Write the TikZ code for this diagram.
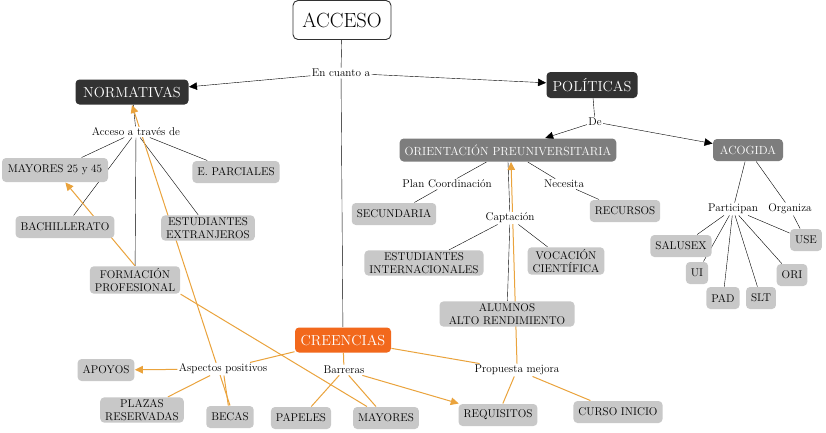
\documentclass[tikz,border=0pt]{standalone}
\usepackage{fontspec}
\usetikzlibrary{arrows.meta,backgrounds}
\definecolor{gris}{RGB}{200,200,200}
\definecolor{oscuro}{RGB}{50,50,50}
\definecolor{medio}{RGB}{125,125,125}
\definecolor{naranja}{RGB}{242,104,28}
\definecolor{linea}{RGB}{234,163,60}
\tikzset{
    concepto/.style={rounded corners=4pt, fill=gris, font=\fontsize{11.2}{13}\selectfont, align=center, inner xsep=5pt, inner ysep=2pt, minimum height=22pt},
    principal/.style={concepto, fill=oscuro, text=white, font=\fontsize{14.5}{16}\selectfont, minimum height=25pt},
    secundario/.style={concepto, fill=medio, text=white, font=\fontsize{11.8}{13}\selectfont},
    enlace/.style={font=\fontsize{11.2}{12}\selectfont, fill=white, inner sep=1pt},
    cruce/.style={color=linea, line width=1pt},
}
\begin{document}
\begin{tikzpicture}[x=1pt, y=-1pt, >={Triangle[length=8pt,width=7.5pt]}, line width=0.95pt]
            \useasboundingbox (0,0) rectangle (826,432);
            \node[draw=oscuro, line width=0.9pt, rounded corners=5pt, fill=white, font=\fontsize{20.5}{22}\selectfont, minimum width=98pt, minimum height=39pt] (acceso) at (342,20) {ACCESO};
            \node[enlace] (encuanto) at (341,73) {En cuanto a};
            \node[principal, minimum width=113pt] (normativas) at (132,92) {NORMATIVAS};
            \node[principal, minimum width=91pt, minimum height=26pt] (politicas) at (592,85) {POLÍTICAS};
            \node[principal, fill=naranja, minimum width=96pt] (creencias) at (343,340) {CREENCIAS};
            \node[enlace] (de) at (595,122) {De};
            \node[secundario, minimum width=215pt, minimum height=23pt] (orientacion) at (508,150) {ORIENTACIÓN PREUNIVERSITARIA};
            \node[secundario, minimum width=70pt] (acogida) at (748,150) {ACOGIDA};
            \node[enlace] (atraves) at (136,132) {Acceso a través de};
            \node[concepto, minimum width=106pt, minimum height=24pt] (may2545) at (55,170) {MAYORES 25 y 45};
            \node[concepto] (parciales) at (236,172) {E. PARCIALES};
            \node[concepto] (bachillerato) at (65,227) {BACHILLERATO};
            \node[concepto] (extranjeros) at (208,228) {ESTUDIANTES\\EXTRANJEROS};
            \node[concepto] (fp) at (135,280) {FORMACIÓN\\PROFESIONAL};
            \node[enlace] (plan) at (447,184) {Plan Coordinación};
            \node[enlace] (necesita) at (564,184) {Necesita};
            \node[concepto] (secundaria) at (394,214) {SECUNDARIA};
            \node[concepto] (recursos) at (625,211) {RECURSOS};
            \node[enlace] (captacion) at (510,218) {Captación};
            \node[concepto] (internacionales) at (424,263) {ESTUDIANTES\\INTERNACIONALES};
            \node[concepto] (vocacion) at (566,261) {VOCACIÓN\\CIENTÍFICA};
            \node[concepto, minimum width=135pt] (alumnos) at (507,314) {ALUMNOS\\ALTO RENDIMIENTO};
            \node[enlace] (participan) at (733,209) {Participan};
            \node[enlace] (organiza) at (790,209) {Organiza};
            \node[concepto] (salusex) at (681,246) {SALUSEX};
            \node[concepto] (use) at (806,240) {USE};
            \node[concepto] (ui) at (697,273) {UI};
            \node[concepto] (ori) at (792,275) {ORI};
            \node[concepto] (pad) at (723,298) {PAD};
            \node[concepto] (slt) at (761,298) {SLT};
            \node[enlace] (positivos) at (223,369) {Aspectos positivos};
            \node[enlace] (barreras) at (344,370) {Barreras};
            \node[enlace] (propuesta) at (517,370) {Propuesta mejora};
            \node[concepto] (apoyos) at (106,370) {APOYOS};
            \node[concepto] (plazas) at (142,410) {PLAZAS\\RESERVADAS};
            \node[concepto] (becas) at (230,417) {BECAS};
            \node[concepto] (papeles) at (301,418) {PAPELES};
            \node[concepto] (mayores) at (386,418) {MAYORES};
            \node[concepto] (requisitos) at (498,415) {REQUISITOS};
            \node[concepto] (curso) at (618,412) {CURSO INICIO};
            \begin{scope}[on background layer]
                \fill[white] (0,0) rectangle (826,432);
                \draw (acceso) -- (encuanto) -- (creencias);
                \draw[->] (encuanto) -- (normativas);
                \draw[->] (encuanto) -- (politicas);
                \draw (normativas) -- (atraves);
                \foreach \n in {may2545,bachillerato,fp,extranjeros,parciales}
                    \draw (atraves) -- (\n);
                \draw (politicas) -- (de);
                \draw[->] (de) -- (orientacion);
                \draw[->] (de) -- (acogida);
                \draw (orientacion) -- (plan) -- (secundaria);
                \draw (orientacion) -- (necesita) -- (recursos);
                \draw (orientacion.south) -- (captacion) -- (alumnos);
                \draw (captacion) -- (internacionales);
                \draw (captacion) -- (vocacion);
                \draw (acogida) -- (participan);
                \draw (acogida) -- (organiza) -- (use);
                \foreach \n in {salusex,ui,pad,slt,ori,use}
                    \draw (participan) -- (\n);
                \draw[cruce] (positivos) -- (creencias) -- (propuesta);
                \draw[cruce] (creencias) -- (barreras);
                \draw[cruce, ->] (positivos) -- (apoyos);
                \draw[cruce] (positivos) -- (plazas);
                \draw[cruce] (positivos) -- (becas);
                \draw[cruce] (barreras) -- (papeles);
                \draw[cruce] (barreras) -- (mayores);
                \draw[cruce, ->] (barreras) -- (requisitos);
                \draw[cruce] (propuesta) -- (requisitos);
                \draw[cruce] (propuesta) -- (curso);
                \draw[cruce, ->] (propuesta.north) -- ([xshift=3pt]orientacion.south);
                \draw[cruce, ->] (becas.north) -- (normativas.south);
                \draw[cruce] (mayores) -- (fp.south east);
                \draw[cruce, ->] (fp.north) -- (may2545);
            \end{scope}
        \end{tikzpicture}
\end{document}
